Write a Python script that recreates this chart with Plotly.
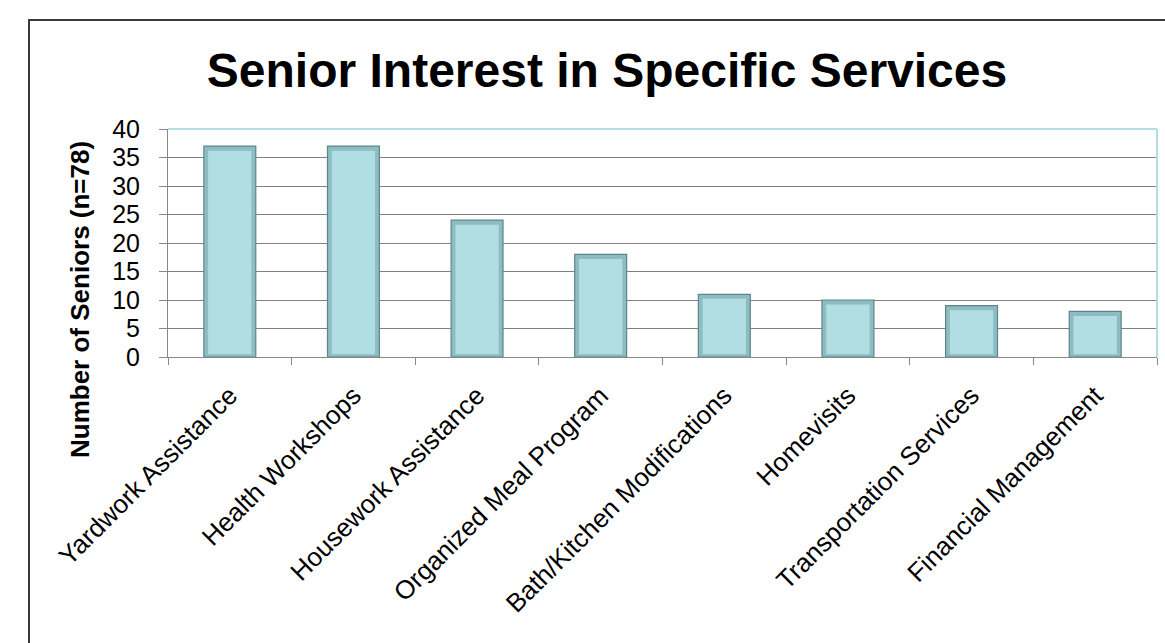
import plotly.graph_objects as go

categories = ["Yardwork Assistance", "Health Workshops", "Housework Assistance",
              "Organized Meal Program", "Bath/Kitchen Modifications", "Homevisits",
              "Transportation Services", "Financial Management"]
values = [37, 37, 24, 18, 11, 10, 9, 8]
y_ticks = [0, 5, 10, 15, 20, 25, 30, 35, 40]

FONT = "Liberation Sans, Arial, sans-serif"

# bevel inset (styling, in value units)
INSET_TOP = 0.8
INSET_BOTTOM = 0.5

fig = go.Figure()
# outer (edge) bar
fig.add_trace(go.Bar(
    x=categories, y=values,
    marker=dict(color="#8dbdc2", line=dict(color="#5e8589", width=1.2)),
    width=0.42, hoverinfo="x+y",
))
# inner lighter face (bevel effect)
fig.add_trace(go.Bar(
    x=categories, y=[v - INSET_TOP - INSET_BOTTOM for v in values],
    base=[INSET_BOTTOM] * len(values),
    marker=dict(color="#b0dee3", line=dict(width=0)),
    width=0.35, hoverinfo="skip",
))

fig.update_layout(
    width=1165, height=643,
    margin=dict(l=168, r=8, t=129, b=286),
    paper_bgcolor="white", plot_bgcolor="white",
    showlegend=False, barmode="overlay",
    font=dict(family=FONT, color="black"),
    title=dict(text="<b>Senior Interest in Specific Services</b>",
               x=607 / 1165, xref="container", xanchor="center",
               y=1 - 70 / 643, yref="container", yanchor="middle",
               font=dict(size=48, family=FONT, color="black")),
    xaxis=dict(
        tickangle=-45, tickfont=dict(size=26, family=FONT),
        ticks="outside", tickson="boundaries", ticklen=7, tickcolor="#888888",
        ticklabelstandoff=12,
        showline=True, linecolor="#888888", linewidth=1,
        showgrid=False, mirror=False,
    ),
    yaxis=dict(
        range=[0, 40], tickvals=y_ticks, tickfont=dict(size=25, family=FONT),
        ticks="outside", ticklen=8, tickcolor="#888888", ticklabelstandoff=14,
        showline=True, linecolor="#888888", linewidth=1,
        showgrid=True, gridcolor="#808080", gridwidth=1,
        zeroline=False,
    ),
    annotations=[dict(
        text="<b>Number of Seniors (n=78)</b>", textangle=-90,
        x=(80 - 168) / 989, y=(357 - 300) / 228, xref="paper", yref="paper",
        xanchor="center", yanchor="middle", showarrow=False,
        font=dict(size=26, family=FONT, color="black"),
    )],
    shapes=[
        dict(type="line", xref="paper", yref="paper", x0=0, x1=1, y0=1, y1=1,
             line=dict(color="#b3dde2", width=2)),
        dict(type="line", xref="paper", yref="paper", x0=1, x1=1, y0=0, y1=1,
             line=dict(color="#b3dde2", width=2)),
        dict(type="rect", xref="paper", yref="paper",
             x0=(29 - 168) / 989, x1=1.05, y0=-1.4, y1=(357 - 20) / 228,
             line=dict(color="#3a3a3a", width=2), layer="below"),
    ],
)

fig.write_html("out.html")
